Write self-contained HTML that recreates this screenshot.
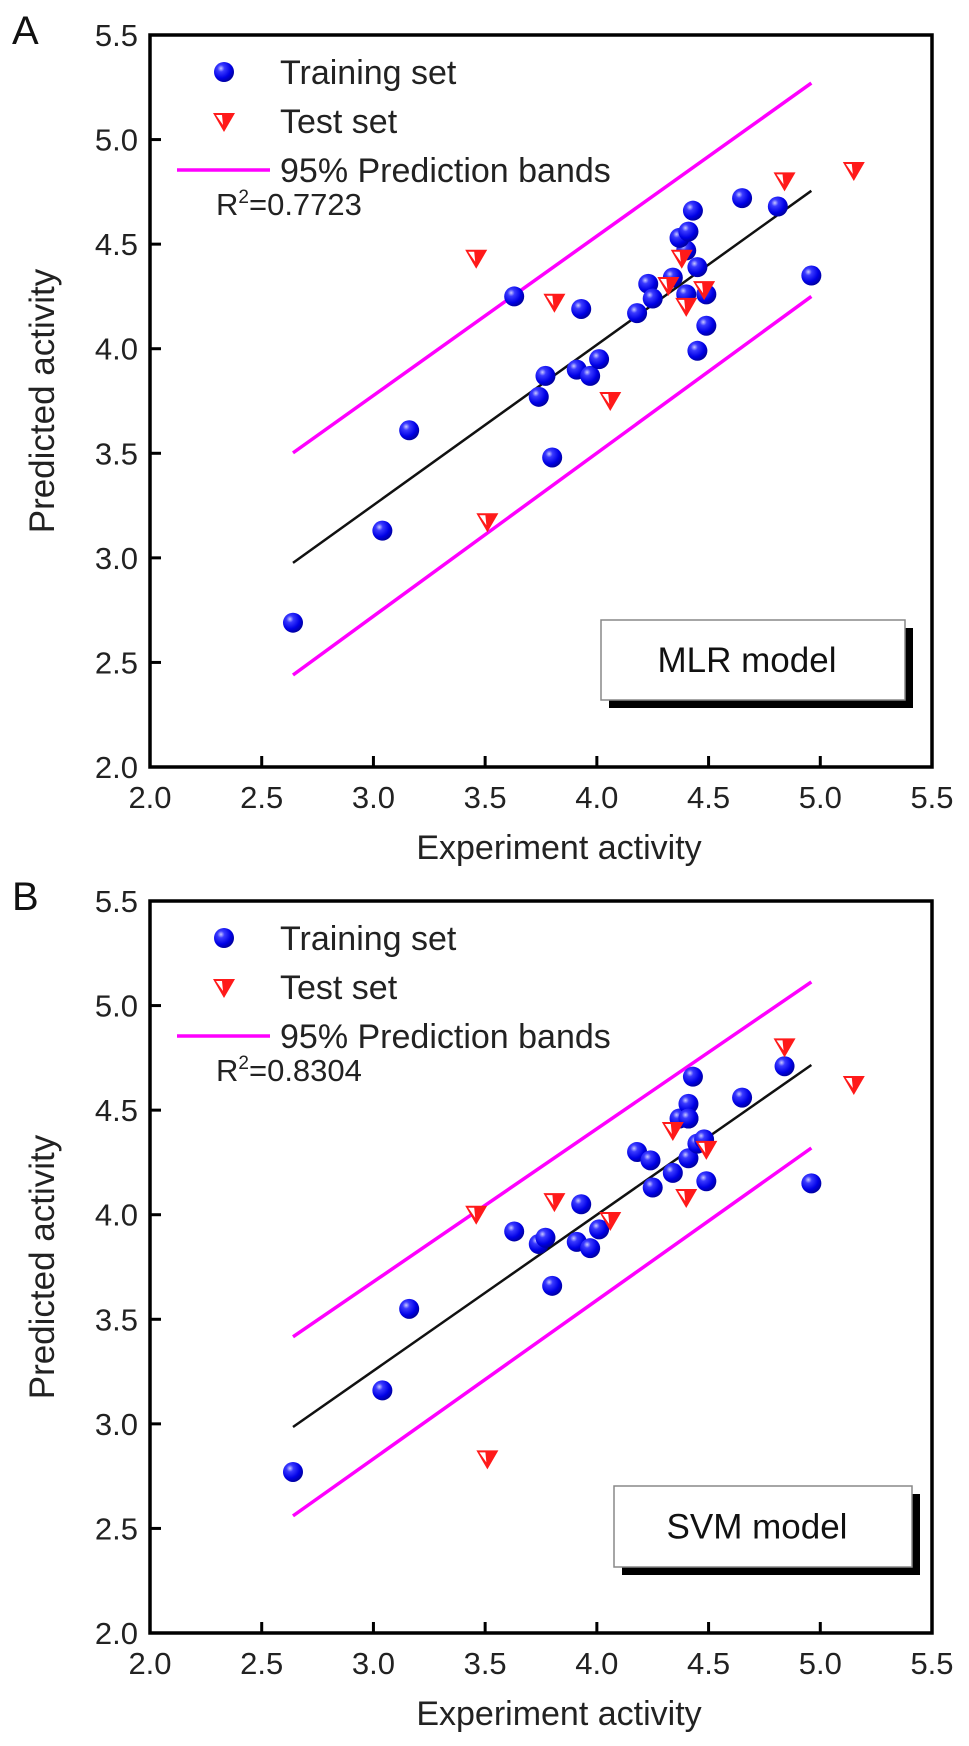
<!DOCTYPE html>
<html><head><meta charset="utf-8"><style>
html,body{margin:0;padding:0;background:#fff;}
svg{display:block;font-family:"Liberation Sans",Arial,sans-serif;}
</style></head><body>
<svg id="fig" width="969" height="1746" viewBox="0 0 969 1746" xmlns="http://www.w3.org/2000/svg">
<defs>
<radialGradient id="sph" cx="0.35" cy="0.32" r="0.7">
<stop offset="0" stop-color="#c8c8ff"/><stop offset="0.25" stop-color="#3a3aff"/><stop offset="0.7" stop-color="#0000e6"/><stop offset="1" stop-color="#0000a0"/>
</radialGradient>
</defs>
</svg>
<script>
// Panel A (MLR) data
const trainAx=[2.64,3.04,3.16,3.80,3.63,3.77,3.74,3.91,3.97,4.01,3.93,4.18,4.23,4.25,4.34,4.40,4.40,4.45,4.49,4.49,4.45,4.37,4.41,4.43,4.65,4.81,4.96];
const trainAy=[2.69,3.13,3.61,3.48,4.25,3.87,3.77,3.90,3.87,3.95,4.19,4.17,4.31,4.24,4.34,4.26,4.47,4.39,4.26,4.11,3.99,4.53,4.56,4.66,4.72,4.68,4.35];
const testAx=[3.46,3.51,3.81,4.06,4.32,4.38,4.40,4.48,4.84,5.15];
const testAy=[4.43,3.17,4.22,3.75,4.30,4.43,4.20,4.28,4.80,4.85];
const fitAx=[2.64,4.96], fitAy=[2.976,4.755];
const upAy=[3.502,5.27], loAy=[2.44,4.25];
// Panel B (SVM) data
const trainBx=[2.64,3.04,3.16,3.63,3.74,3.77,3.80,3.91,3.97,4.01,3.93,4.18,4.24,4.25,4.34,4.41,4.41,4.45,4.48,4.49,4.37,4.41,4.41,4.43,4.65,4.84,4.96];
const trainBy=[2.77,3.16,3.55,3.92,3.86,3.89,3.66,3.87,3.84,3.93,4.05,4.30,4.26,4.13,4.20,4.27,4.46,4.34,4.36,4.16,4.46,4.53,4.46,4.66,4.56,4.71,4.15];
const testBx=[3.46,3.51,3.81,4.06,4.34,4.40,4.49,4.84,5.15];
const testBy=[4.00,2.83,4.06,3.97,4.40,4.08,4.31,4.80,4.62];
const fitBx=[2.64,4.96], fitBy=[2.985,4.716];
const upBy=[3.416,5.113], loBy=[2.56,4.319];
const ticks=[2.0,2.5,3.0,3.5,4.0,4.5,5.0,5.5];
const tickLabels=["2.0","2.5","3.0","3.5","4.0","4.5","5.0","5.5"];

const NS="http://www.w3.org/2000/svg";
const svg=document.getElementById('fig');
function mk(tag,attrs,parent){const e=document.createElementNS(NS,tag);for(const k in attrs)e.setAttribute(k,attrs[k]);(parent||svg).appendChild(e);return e;}
const L=150,R=932;
function X(v){return L+(v-2)*(R-L)/3.5;}

function panel(off,letter,tx,ty,sx,sy,fx,fy,uy,ly,r2,model,box){
  const B=767+off,T=35+off;
  function Y(v){return B-(v-2)*(B-T)/3.5;}
  const g=mk('g',{});
  
  
  const lt=mk('text',{x:12,y:44+off,'font-size':40,fill:'#111'},g);lt.textContent=letter;
  
  const ub=mk('line',{x1:X(fx[0]),y1:Y(uy[0]),x2:X(fx[1]),y2:Y(uy[1]),stroke:'#ff00ff','stroke-width':3.5},g);
  
  const lb=mk('line',{x1:X(fx[0]),y1:Y(ly[0]),x2:X(fx[1]),y2:Y(ly[1]),stroke:'#ff00ff','stroke-width':3.5},g);
  
  const fl=mk('line',{x1:X(fx[0]),y1:Y(fy[0]),x2:X(fx[1]),y2:Y(fy[1]),stroke:'#111','stroke-width':2.5},g);
  
  const bs=mk('rect',{x:box[0]+8,y:box[1]+8,width:box[2]-box[0],height:box[3]-box[1],fill:'#000'},g);
  
  const bx=mk('rect',{x:box[0],y:box[1],width:box[2]-box[0],height:box[3]-box[1],fill:'#fff',stroke:'#888','stroke-width':1.5},g);
  
  const bt=mk('text',{x:(box[0]+box[2])/2-6,y:(box[1]+box[3])/2+12,'font-size':35,'text-anchor':'middle',fill:'#111'},g);bt.textContent=model;
  
  for(let i=0;i<sx.length;i++){
    const c=mk('circle',{cx:X(sx[i]),cy:Y(sy[i]),r:10,fill:'url(#sph)'},g);
    
    
  }
  function tri(cx,cy,parent){
    const t=mk('g',{},parent);
    mk('polygon',{points:`${cx-11},${cy-9} ${cx+11},${cy-9} ${cx},${cy+10}`,fill:'#ff1a1a'},t);
    mk('polygon',{points:`${cx-8},${cy-7} ${cx-2},${cy-7} ${cx-1},${cy+3}`,fill:'#fff'},t);
    return t;
  }
  for(let i=0;i<tx.length;i++){
    const t=tri(X(tx[i]),Y(ty[i]),g);
    
    
  }
  const fr=mk('rect',{x:L,y:T,width:R-L,height:B-T,fill:'none',stroke:'#000','stroke-width':3.5},g);
  
  for(let i=0;i<ticks.length;i++){
    const v=ticks[i];
    if(i>0&&i<ticks.length-1){
      const a=mk('line',{x1:X(v),y1:B,x2:X(v),y2:B-11,stroke:'#000','stroke-width':3},g);
      
      const b=mk('line',{x1:L,y1:Y(v),x2:L+11,y2:Y(v),stroke:'#000','stroke-width':3},g);
      
    }
    const xl=mk('text',{x:X(v),y:B+41,'font-size':31,'text-anchor':'middle',fill:'#222'},g);xl.textContent=tickLabels[i];
    
    const yl=mk('text',{x:138,y:Y(v)+11,'font-size':31,'text-anchor':'end',fill:'#222'},g);yl.textContent=tickLabels[i];
    
  }
  const xt=mk('text',{x:(L+R)/2+18,y:B+92,'font-size':34,'text-anchor':'middle',fill:'#222'},g);xt.textContent='Experiment activity';
  
  const yc=(T+B)/2;
  const yt=mk('text',{x:0,y:0,'font-size':35,'text-anchor':'middle',fill:'#222',transform:`translate(54,${yc}) rotate(-90)`},g);yt.textContent='Predicted activity';
  
  const lg=mk('g',{},g);
  
  const ld=mk('circle',{cx:224,cy:72+off,r:10,fill:'url(#sph)'},lg);
  
  const l1=mk('text',{x:280,y:84+off,'font-size':34,fill:'#222'},lg);l1.textContent='Training set';
  
  const lt2=tri(224,122+off,lg);
  
  const l2=mk('text',{x:280,y:133+off,'font-size':34,fill:'#222'},lg);l2.textContent='Test set';
  
  const ll=mk('line',{x1:177,y1:170+off,x2:270,y2:170+off,stroke:'#ff00ff','stroke-width':3.5},lg);
  
  const l3=mk('text',{x:280,y:182+off,'font-size':34,fill:'#222'},lg);l3.textContent='95% Prediction bands';
  
  const rt=mk('text',{x:216,y:215+off,'font-size':31,fill:'#222'},g);
  rt.innerHTML='R<tspan font-size="19" dy="-12">2</tspan><tspan dy="12">='+r2+'</tspan>';
  
}
panel(0,'A',testAx,testAy,trainAx,trainAy,fitAx,fitAy,upAy,loAy,'0.7723','MLR model',[601,620,905,700]);
panel(866,'B',testBx,testBy,trainBx,trainBy,fitBx,fitBy,upBy,loBy,'0.8304','SVM model',[614,1486,912,1567]);
</script>
</body></html>
